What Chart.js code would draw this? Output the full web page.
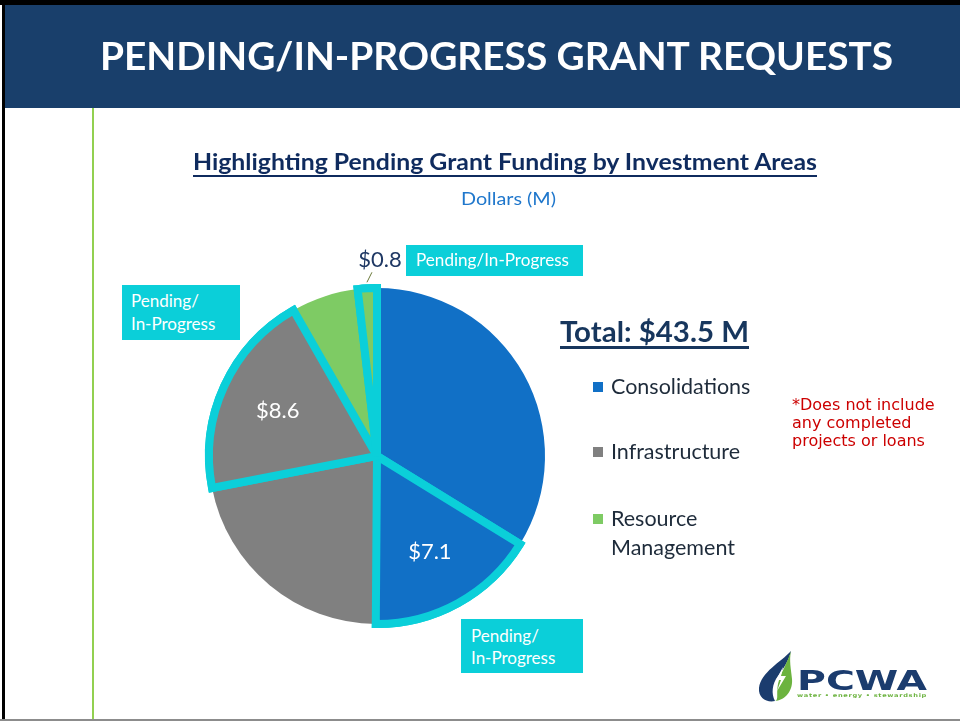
<!DOCTYPE html>
<html>
<head>
<meta charset="utf-8">
<script src="https://cdn.jsdelivr.net/npm/chart.js@4/dist/chart.umd.min.js"></script>
<style>
  html,body{margin:0;padding:0;background:#fff;}
  body{width:960px;height:721px;position:relative;overflow:hidden;font-family:Lato,"Open Sans",sans-serif;}
  .abs{position:absolute;white-space:nowrap;line-height:1;}
  .fit{transform-origin:0 0;}
  #chartWrap{position:absolute;left:0;top:0;width:960px;height:721px;}
  .box{position:absolute;background:#0BCFD9;}
  .wt{color:#fff;font-size:17px;}
</style>
</head>
<body>
<!-- slide frame -->
<div class="abs" style="left:0;top:0;width:960px;height:5px;background:#000;"></div>
<div class="abs" style="left:2px;top:0;width:3px;height:721px;background:#000;"></div>
<div class="abs" style="left:5px;top:5px;width:955px;height:103px;background:#193F6B;"></div>
<div class="abs" style="left:92px;top:108px;width:2px;height:613px;background:#92D050;"></div>
<div class="abs" style="left:0;top:719px;width:960px;height:2px;background:#8C8C8C;"></div>

<div id="chartWrap"><canvas id="c" width="960" height="721"></canvas></div>

<div class="abs fit" data-w="793" style="left:100px;top:35.5px;font-size:39px;font-weight:700;color:#fff;">PENDING/IN-PROGRESS GRANT REQUESTS</div>
<div class="abs fit" data-w="624" style="left:193px;top:151.4px;font-size:22px;font-weight:700;color:#0F2B5E;text-decoration:underline;text-decoration-thickness:2px;text-underline-offset:5px;">Highlighting Pending Grant Funding by Investment Areas</div>
<div class="abs fit" data-w="95" style="left:461px;top:190px;font-size:17px;color:#1F77CC;">Dollars (M)</div>

<div class="box" style="left:406px;top:245px;width:177px;height:31px;"></div>
<div class="abs fit wt" data-w="153" style="left:416px;top:251.1px;">Pending/In-Progress</div>
<div class="box" style="left:122px;top:285px;width:118px;height:55px;"></div>
<div class="abs wt" style="left:131px;top:292.1px;">Pending/</div>
<div class="abs wt" style="left:131px;top:315.1px;">In-Progress</div>
<div class="box" style="left:461px;top:619px;width:122px;height:54px;"></div>
<div class="abs wt" style="left:471px;top:627.1px;">Pending/</div>
<div class="abs wt" style="left:471px;top:649.1px;">In-Progress</div>

<div id="total" class="abs fit" data-w="189" style="left:560px;top:317.3px;font-size:28px;font-weight:700;color:#17365D;text-decoration:underline;text-decoration-thickness:2.5px;text-underline-offset:4px;"></div>
<div id="legend"></div>

<div class="abs" style="left:792px;top:396.3px;font-family:'DejaVu Sans',sans-serif;font-size:16px;line-height:18px;color:#CC0000;">*Does not include<br>any completed<br>projects or loans</div>

<!-- logo -->
<svg class="abs" style="left:750px;top:645px;" width="190" height="62" viewBox="750 645 190 62">
  <path d="M791,651 C781,662 761,672 759,688 C758,698 767,703 775,701 C771,694 772,684 778,676 C784,668 789,660 791,651 Z" fill="#1B3C6E"/>
  <path d="M791,651 C787,664 780,674 778,684 C776,694 779,700 775,701 C786,700 793,690 792,679 C791,668 789,661 791,651 Z" fill="#6CB33F"/>
  <path d="M783,667 L776,680 L781,680 L777,691 L786,676 L781,676 Z" fill="#fff"/>
</svg>
<div class="abs fit" data-w="130" style="left:797px;top:667px;font-family:'DejaVu Sans',sans-serif;font-weight:700;font-size:27px;color:#1B3C6E;">PCWA</div>
<div class="abs fit" data-w="130" style="left:797px;top:693px;font-family:'DejaVu Sans',sans-serif;font-weight:700;font-size:5px;color:#6CB33F;letter-spacing:0.5px;">water • energy • stewardship</div>

<script>
// ---- data ----
const categories = ['Consolidations', 'Infrastructure', 'Resource Management'];
const categoryColors = ['#1170C6', '#808080', '#7ECB64'];
const sliceLabels = [
  'Consolidations', 'Consolidations (Pending/In-Progress)',
  'Infrastructure', 'Infrastructure (Pending/In-Progress)',
  'Resource Management', 'Resource Management (Pending/In-Progress)'
];
const sliceCategory = [0, 0, 1, 1, 2, 2];
const sliceValues = [14.7, 7.1, 9.5, 8.6, 2.8, 0.8];
const slicePending = [false, true, false, true, false, true];

const PENDING_COLOR = '#0BCFD9';
const totalValue = sliceValues.reduce((a, b) => a + b, 0);
document.getElementById('total').textContent = 'Total: $' + totalValue.toFixed(1) + ' M';

// legend
const legend = document.getElementById('legend');
const legendY = [387, 452, 519];
categories.forEach((c, i) => {
  const sq = document.createElement('div');
  sq.className = 'abs';
  sq.style.cssText = `left:593px;top:${legendY[i]-5}px;width:10px;height:10px;background:${categoryColors[i]};`;
  legend.appendChild(sq);
  const words = i === 2 ? c.split(' ') : [c];
  words.forEach((w, j) => {
    const t = document.createElement('div');
    t.className = 'abs';
    t.style.cssText = `left:611px;top:${legendY[i] - 11.3 + j*29}px;font-size:21.5px;color:#1E2B3A;`;
    t.textContent = w;
    legend.appendChild(t);
  });
});

// labels on pending slices
const labelPlugin = {
  id: 'pendingLabels',
  afterDatasetsDraw(chart) {
    const ctx = chart.ctx;
    const meta = chart.getDatasetMeta(0);
    // redraw pending slices so their outline sits on top
    meta.data.forEach((arc, i) => { if (slicePending[i]) arc.draw(ctx); });
    meta.data.forEach((arc, i) => {
      if (!slicePending[i]) return;
      const mid = (arc.startAngle + arc.endAngle) / 2;
      const text = '$' + sliceValues[i].toFixed(1);
      ctx.save();
      ctx.textAlign = 'center';
      ctx.textBaseline = 'middle';
      ctx.font = '22px Lato, sans-serif';
      const span = arc.endAngle - arc.startAngle;
      if (span > 0.5) {
        const r = arc.outerRadius * 0.65;
        ctx.fillStyle = '#ffffff';
        ctx.fillText(text, arc.x + Math.cos(mid) * r, arc.y + Math.sin(mid) * r);
      } else {
        const r1 = arc.outerRadius + 6;
        const x1 = arc.x + Math.cos(mid) * r1, y1 = arc.y + Math.sin(mid) * r1;
        const x2 = x1 + 5, y2 = y1 - 10;
        ctx.strokeStyle = '#6B7A3A';
        ctx.lineWidth = 1;
        ctx.beginPath(); ctx.moveTo(x1, y1); ctx.lineTo(x2, y2); ctx.stroke();
        ctx.fillStyle = '#1F3864';
        ctx.fillText(text, x2 + 8, y2 - 12);
      }
      ctx.restore();
    });
  }
};

new Chart(document.getElementById('c'), {
  type: 'pie',
  data: {
    labels: sliceLabels,
    datasets: [{
      data: sliceValues,
      backgroundColor: sliceCategory.map(k => categoryColors[k]),
      borderColor: slicePending.map(p => p ? PENDING_COLOR : 'rgba(0,0,0,0)'),
      borderWidth: slicePending.map(p => p ? 8 : 0),
      borderAlign: 'center',
      borderJoinStyle: 'miter',
      hoverOffset: 0
    }]
  },
  options: {
    responsive: false,
    animation: false,
    events: [],
    rotation: 0,
    layout: { padding: { left: 205, top: 284, right: 411, bottom: 93 } },
    plugins: { legend: { display: false }, tooltip: { enabled: false }, title: { display: false } }
  },
  plugins: [labelPlugin]
});

function fitAll() {
  document.querySelectorAll('.fit').forEach(el => {
    el.style.transform = 'none';
    const w = el.getBoundingClientRect().width;
    const target = parseFloat(el.dataset.w);
    if (w > 0) el.style.transform = `scaleX(${target / w})`;
  });
}
fitAll();
if (document.fonts && document.fonts.ready) document.fonts.ready.then(fitAll);
</script>
</body>
</html>
